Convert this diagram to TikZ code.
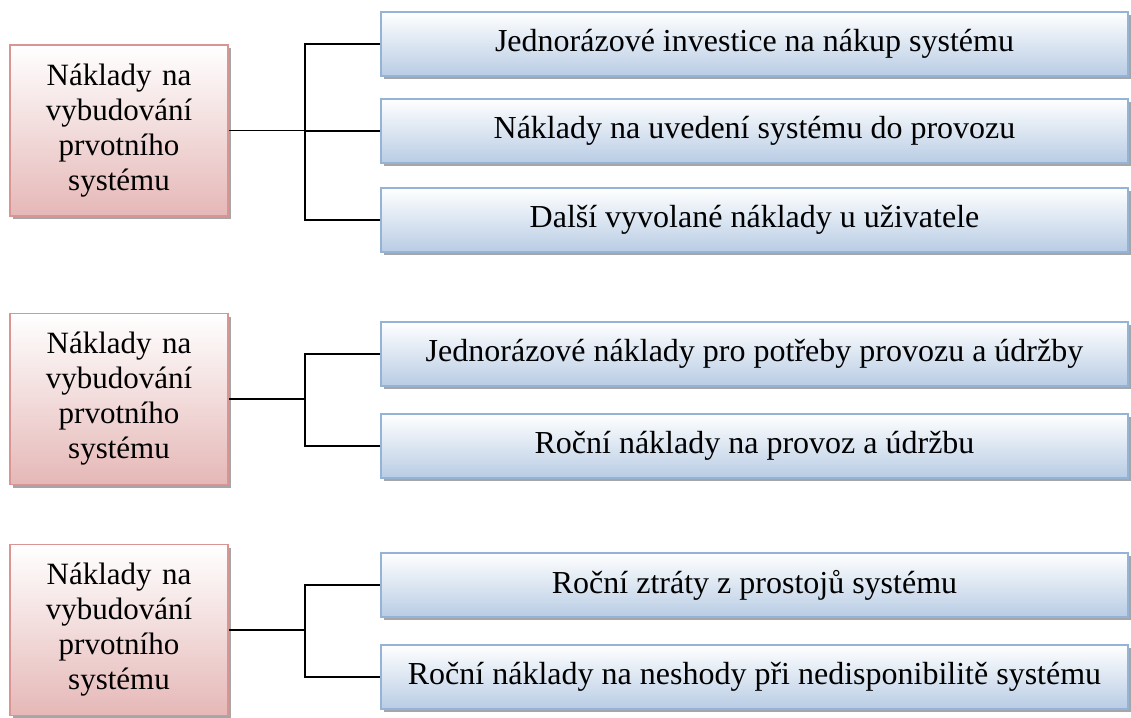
\documentclass[tikz,border=0pt]{standalone}
\usepackage{fontspec}
\setmainfont{Liberation Serif}
\usepackage{tikz}
\usetikzlibrary{shadows,calc}
\usepackage{xcolor}
\definecolor{rootfill}{RGB}{229,184,183}
\definecolor{rootline}{RGB}{217,149,148}
\definecolor{itemfill}{RGB}{184,204,228}
\definecolor{itemline}{RGB}{149,179,215}

\tikzset{
    costbox/.style={draw=rootline, line width=1.6pt, top color=white, bottom color=rootfill,
        minimum width=218pt, minimum height=171pt, text width=210pt, align=center,
        font=\fontsize{31}{35}\selectfont,
        drop shadow={shadow xshift=3pt, shadow yshift=-3pt, fill=black!35, opacity=1}},
    itembox/.style={draw=itemline, line width=1.6pt, top color=white, bottom color=itemfill,
        minimum width=747pt, minimum height=64pt, align=center,
        font=\fontsize{32}{35}\selectfont,
        drop shadow={shadow xshift=3pt, shadow yshift=-3pt, fill=black!35, opacity=1}},
    link/.style={line width=1.4pt, black}
}

\begin{document}
\begin{tikzpicture}[x=1pt, y=-1pt]
    \useasboundingbox (0,0) rectangle (1131,717);

    % --- Group 1 ---
    \node[costbox] (cost1) at (119,130.5) {Náklady na\\vybudování\\prvotního\\systému};
    \node[itembox] (inv) at (754.5,44) {Jednorázové investice na nákup systému};
    \node[itembox] (start) at (754.5,131) {Náklady na uvedení systému do provozu};
    \node[itembox] (other) at (754.5,220) {Další vyvolané náklady u uživatele};
    \coordinate (j1) at (305,131);
    \draw[link] (cost1.east) -- (cost1.east -| j1);
    \draw[link] (inv.west) -| (j1) |- (other.west);
    \draw[link] (start.west) -- (start.west -| j1);

    % --- Group 2 ---
    \node[costbox] (cost2) at (119,399) {Náklady na\\vybudování\\prvotního\\systému};
    \node[itembox] (maint) at (754.5,354) {Jednorázové náklady pro potřeby provozu a údržby};
    \node[itembox] (yearly) at (754.5,446) {Roční náklady na provoz a údržbu};
    \coordinate (j2) at (305,400);
    \draw[link] (cost2.east) -- (cost2.east -| j2);
    \draw[link] (maint.west) -| (j2) |- (yearly.west);

    % --- Group 3 ---
    \node[costbox] (cost3) at (119,630) {Náklady na\\vybudování\\prvotního\\systému};
    \node[itembox] (loss) at (754.5,585) {Roční ztráty z prostojů systému};
    \node[itembox] (fault) at (754.5,677) {Roční náklady na neshody při nedisponibilitě systému};
    \coordinate (j3) at (305,631);
    \draw[link] (cost3.east) -- (cost3.east -| j3);
    \draw[link] (loss.west) -| (j3) |- (fault.west);
\end{tikzpicture}
\end{document}
